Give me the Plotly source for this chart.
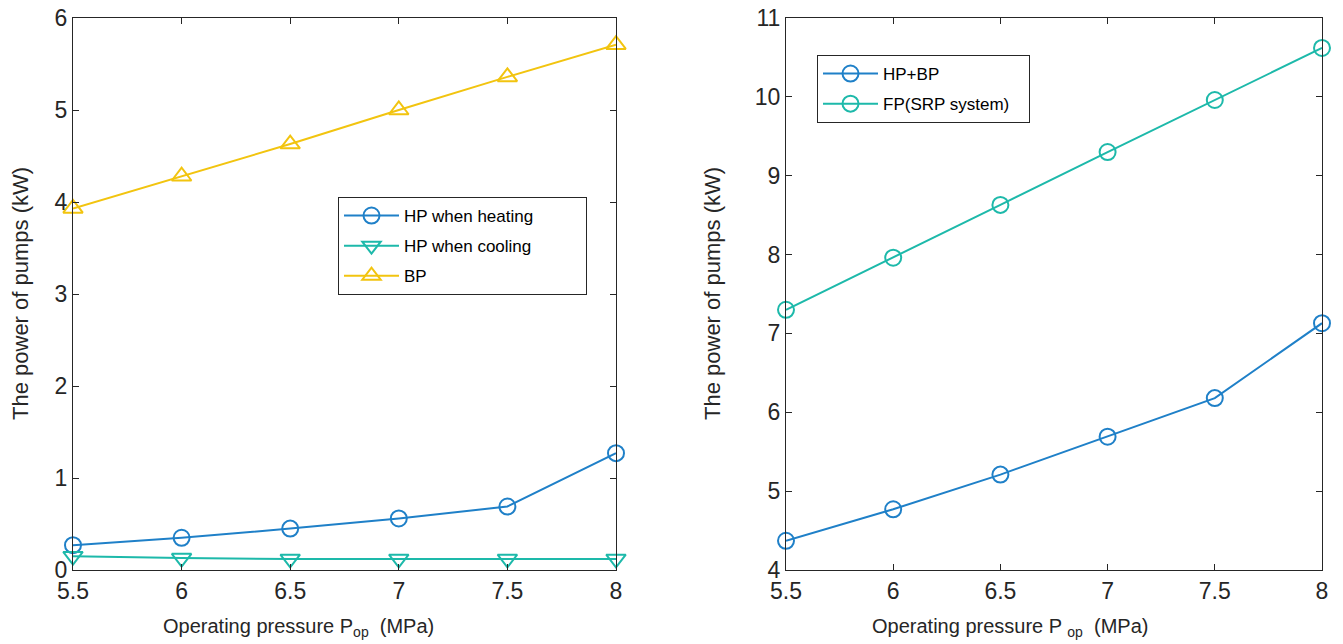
import plotly.graph_objects as go

pressure = [5.5, 6.0, 6.5, 7.0, 7.5, 8.0]
hp_heating = [0.27, 0.35, 0.45, 0.56, 0.69, 1.27]
hp_cooling = [0.15, 0.13, 0.12, 0.12, 0.12, 0.12]
bp = [3.93, 4.28, 4.63, 5.00, 5.36, 5.71]
hp_bp = [4.37, 4.77, 5.21, 5.69, 6.18, 7.13]
fp_srp = [7.30, 7.96, 8.63, 9.30, 9.96, 10.62]

x_ticks = [5.5, 6, 6.5, 7, 7.5, 8]
x_ticklabels = ["5.5", "6", "6.5", "7", "7.5", "8"]

BLUE = "#1F80C8"
TEAL = "#1DB9AA"
YELLOW = "#F2C40F"
AX = "#262626"
FONT = "Liberation Sans, Arial, sans-serif"
PAD = "\u00a0"

fig = go.Figure()

def add(x, y, name, color, symbol, size, xa, ya, legend, pad=0):
    fig.add_trace(go.Scatter(
        x=x, y=y, name=name + PAD * pad, mode="lines+markers",
        line=dict(color=color, width=2),
        marker=dict(symbol=symbol, size=size, color=color,
                    line=dict(color=color, width=2)),
        xaxis=xa, yaxis=ya, legend=legend, legendgroup=name,
        cliponaxis=False))

add(pressure, hp_heating, "HP when heating", BLUE, "circle-open", 16, "x", "y", "legend", 10)
add(pressure, hp_cooling, "HP when cooling", TEAL, "triangle-down-open", 17, "x", "y", "legend")
add(pressure, bp, "BP", YELLOW, "triangle-up-open", 17, "x", "y", "legend")
add(pressure, hp_bp, "HP+BP", BLUE, "circle-open", 16, "x2", "y2", "legend2")
add(pressure, fp_srp, "FP(SRP system)", TEAL, "circle-open", 16, "x2", "y2", "legend2", 3)

axis_common = dict(showline=True, linecolor=AX, linewidth=1, mirror="ticks",
                   ticks="inside", ticklen=6, tickcolor=AX, showgrid=False,
                   zeroline=False, automargin=False,
                   tickfont=dict(family=FONT, size=23, color=AX))

W, H = 1343, 644
y0, y1 = 1 - 570 / H, 1 - 18 / H
xl = [73 / W, 616 / W]
xr = [786 / W, 1322 / W]

ann = []
for xc, txt in [(298, "Operating pressure P<sub>op</sub>  (MPa)"),
                (1010, "Operating pressure P <sub>op</sub>  (MPa)")]:
    ann.append(dict(text=txt, x=xc / W, y=1 - 627 / H,
                    xref="paper", yref="paper", xanchor="center", yanchor="middle",
                    showarrow=False, font=dict(family=FONT, size=20, color=AX)))
for xp in [20, 712]:
    ann.append(dict(text="The power of pumps (kW)", x=xp / W, y=(y0 + y1) / 2,
                    xref="paper", yref="paper", xanchor="center", yanchor="middle",
                    textangle=-90, showarrow=False,
                    font=dict(family=FONT, size=22, color=AX)))

leg_common = dict(xanchor="left", yanchor="top", bordercolor=AX, borderwidth=1,
                  bgcolor="white", font=dict(family=FONT, size=17, color="black"),
                  itemwidth=55, tracegroupgap=5)

fig.update_layout(
    width=W, height=H, margin=dict(l=0, r=0, t=0, b=0),
    paper_bgcolor="white", plot_bgcolor="white",
    font=dict(family=FONT, color=AX),
    xaxis=dict(domain=xl, range=[5.5, 8], tickvals=x_ticks,
               ticktext=x_ticklabels, anchor="y", **axis_common),
    yaxis=dict(domain=[y0, y1], range=[0, 6], dtick=1, anchor="x", **axis_common),
    xaxis2=dict(domain=xr, range=[5.5, 8], tickvals=x_ticks,
                ticktext=x_ticklabels, anchor="y2", **axis_common),
    yaxis2=dict(domain=[y0, y1], range=[4, 11], dtick=1, anchor="x2", **axis_common),
    legend=dict(x=338 / W, y=1 - 197 / H, **leg_common),
    legend2=dict(x=817 / W, y=1 - 55 / H, **leg_common),
    annotations=ann,
    showlegend=True,
)

fig.write_html("out.html")
